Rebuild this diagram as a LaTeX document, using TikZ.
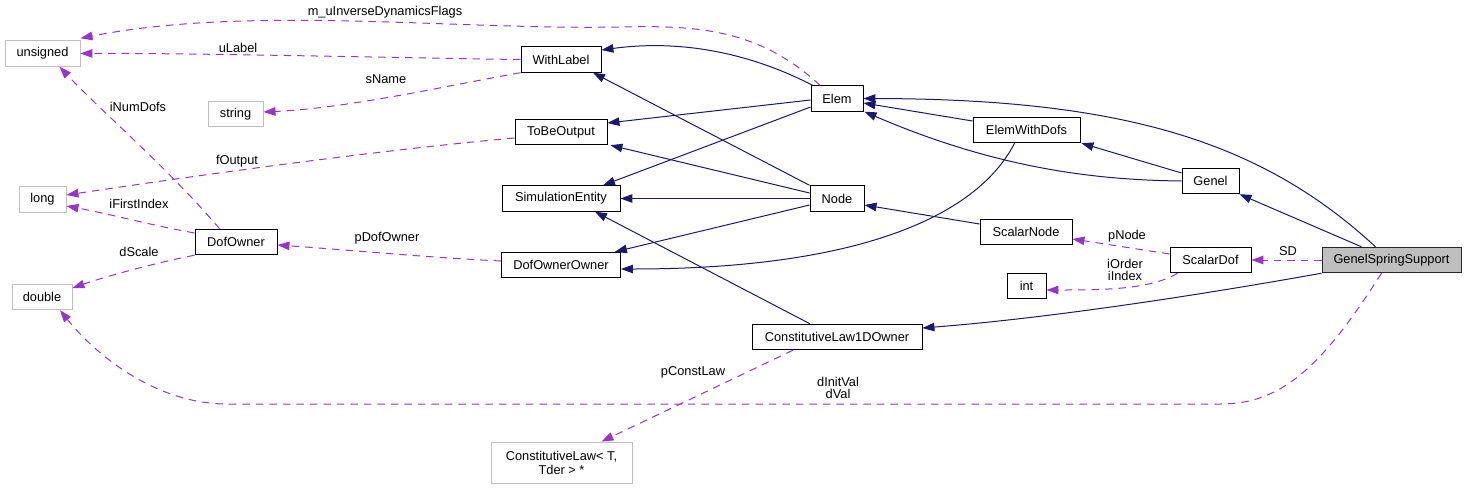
\documentclass[tikz,border=0pt]{standalone}
\usepackage{fontspec}
\setmainfont{Liberation Sans}
\usetikzlibrary{arrows.meta,calc}
\definecolor{inhc}{HTML}{191970}
\definecolor{usec}{HTML}{9A32CD}
\definecolor{extc}{HTML}{BFBFBF}
\begin{document}
\begin{tikzpicture}[x=1pt,y=-1pt,
  font=\fontsize{12.8}{14}\selectfont,
  box/.style={draw=black,line width=0.9pt,fill=white,inner sep=0pt,minimum height=25.5pt,align=center},
  extbox/.style={box,draw=extc},
  curbox/.style={box,fill=extc,draw=black!85},
  inh/.style={draw=inhc,line width=1pt,-{Triangle[length=12pt,width=8.5pt]}},
  use/.style={draw=usec,line width=1pt,dash pattern=on 7.5pt off 6pt,-{Triangle[length=12pt,width=8.5pt]}},
  lbl/.style={inner sep=0pt,align=center}]
\useasboundingbox (0,0) rectangle (1467,488);
% nodes
\node[extbox,minimum width=75pt] (unsigned) at (42.5,53.5) {unsigned};
\node[extbox,minimum width=55pt] (string) at (235.5,114) {string};
\node[extbox,minimum width=47pt] (long) at (42.5,199.5) {long};
\node[extbox,minimum width=60pt] (double) at (42,297) {double};
\node[box,minimum width=82pt] (dofowner) at (236,242) {DofOwner};
\node[box,minimum width=80pt] (withlabel) at (561,59.5) {WithLabel};
\node[box,minimum width=92pt] (tbo) at (561,132) {ToBeOutput};
\node[box,minimum width=118pt] (sim) at (561,198.5) {SimulationEntity};
\node[box,minimum width=119pt] (doo) at (561,265) {DofOwnerOwner};
\node[box,minimum width=52pt] (elem) at (837,98.5) {Elem};
\node[box,minimum width=54pt] (node) at (837,198.5) {Node};
\node[box,minimum width=170pt] (cl1d) at (837,337) {ConstitutiveLaw1DOwner};
\node[extbox,minimum width=141pt,minimum height=41pt] (cl) at (561.5,462.5) {ConstitutiveLaw< T,\\ Tder > *};
\node[box,minimum width=107pt] (ewd) at (1026.5,130) {ElemWithDofs};
\node[box,minimum width=92pt] (sn) at (1026,232) {ScalarNode};
\node[box,minimum width=39pt] (int) at (1026.5,286) {int};
\node[box,minimum width=57pt] (genel) at (1210.5,181) {Genel};
\node[box,minimum width=81pt] (sdof) at (1210.5,260) {ScalarDof};
\node[curbox,minimum width=139pt] (gss) at (1391.5,260) {GenelSpringSupport};
% inheritance
\draw[inh] ($(elem.north west)+(2,0)$) .. controls (760,58) and (690,38) .. ($(withlabel.east)+(0,-9.5)$);
\draw[inh] ($(elem.west)+(0,1.5)$) -- ($(tbo.east)+(0,-9)$);
\draw[inh] ($(elem.west)+(0,8.5)$) -- ($(sim.north)+(42,0)$);
\draw[inh] (node.north west) -- ($(withlabel.south)+(32,0)$);
\draw[inh] ($(node.west)+(0,-5.5)$) -- ($(tbo.south east)+(3,0)$);
\draw[inh] (node.west) -- (sim.east);
\draw[inh] ($(node.west)+(0,6.5)$) -- ($(doo.north east)+(-6,0)$);
\draw[inh] ($(ewd.west)+(0,-9)$) -- ($(elem.east)+(0,4.5)$);
\draw[inh] ($(ewd.south west)+(42,0)$) .. controls (975,220) and (850,269) .. ($(doo.east)+(0,4)$);
\draw[inh] (genel.west) .. controls (1100,180) and (1000,170) .. ($(elem.south east)+(1,0)$);
\draw[inh] ($(genel.west)+(0,-8)$) -- ($(ewd.south east)+(1,0)$);
\draw[inh] ($(sn.west)+(0,-8)$) -- ($(node.east)+(0,6.5)$);
\draw[inh] ($(gss.north)+(-16,0)$) .. controls (1260,140) and (1120,99) .. (elem.east);
\draw[inh] ($(gss.north)+(-30,0)$) -- (genel.south east);
\draw[inh] (gss.south west) .. controls (1200,295) and (1050,318) .. ($(cl1d.east)+(0,-9)$);
\draw[inh] ($(cl1d.north)+(-27,0)$) -- ($(sim.south)+(34,0)$);
% usage
\draw[use] ($(elem.north)+(-17,0)$) .. controls (760,30) and (700,25) .. (620,27) .. controls (450,30) and (250,5) .. ($(unsigned.north east)+(0,-2)$);
\node[lbl] (l1) at (385,12) {m\_uInverseDynamicsFlags};
\draw[use] (withlabel.west) .. controls (400,58) and (200,53) .. (unsigned.east);
\node[lbl] (l2) at (238,48) {uLabel};
\draw[use] (withlabel.south west) .. controls (450,85) and (350,108) .. ($(string.east)+(0,-2)$);
\node[lbl] (l3) at (386,79) {sName};
\draw[use] ($(tbo.west)+(0,6)$) .. controls (380,150) and (200,175) .. ($(long.east)+(0,-4.5)$);
\node[lbl] (l4) at (237,161) {fOutput};
\draw[use] ($(dofowner.north west)+(25,0)$) .. controls (170,170) and (100,110) .. ($(unsigned.south)+(17,0)$);
\node[lbl] (l5) at (138,107) {iNumDofs};
\draw[use] ($(dofowner.west)+(0,-9)$) .. controls (150,225) and (110,214) .. ($(long.east)+(0,6.5)$);
\node[lbl] (l6) at (139,204) {iFirstIndex};
\draw[use] (dofowner.south west) .. controls (160,262) and (110,275) .. ($(double.east)+(0,-9)$);
\node[lbl] (l7) at (139,252) {dScale};
\draw[use] ($(doo.west)+(0,-4)$) .. controls (420,257) and (350,250) .. ($(dofowner.east)+(0,3)$);
\node[lbl] (l8) at (387,238) {pDofOwner};
\draw[use] ($(cl1d.south)+(-44,0)$) -- ($(cl.north)+(40,0)$);
\node[lbl] (l9) at (693,372) {pConstLaw};
\draw[use] ($(gss.south)+(-10,0)$) .. controls (1320,370) and (1280,404) .. (1220,404) -- (227,404) .. controls (160,404) and (100,360) .. ($(double.south)+(18,0)$);
\node[lbl] (l10) at (838,388) {dInitVal\\[-1.5pt]dVal};
\draw[use] ($(sdof.west)+(0,-6)$) -- ($(sn.east)+(0,7)$);
\node[lbl] (l11) at (1127,236) {pNode};
\draw[use] ($(sdof.south west)+(8,0)$) .. controls (1150,290) and (1100,290) .. ($(int.east)+(0,4)$);
\node[lbl] (l12) at (1125,270) {iOrder\\[-1.5pt]iIndex};
\draw[use] (gss.west) -- (sdof.east);
\node[lbl] (l13) at (1288,251) {SD};
\end{tikzpicture}
\end{document}
